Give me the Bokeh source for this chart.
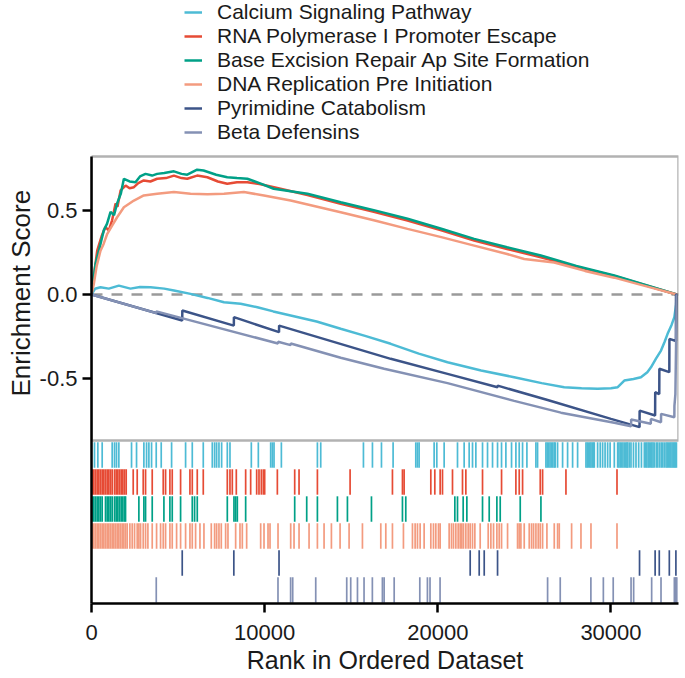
from bokeh.plotting import figure
from bokeh.models import (Range1d, FixedTicker, BoxAnnotation, Span, Legend, LegendItem,
                          Title, ColumnDataSource, NumeralTickFormatter)
from bokeh.embed import file_html
from bokeh.resources import INLINE

# ---------------- data ----------------
SET_NAMES = ["Calcium Signaling Pathway", "RNA Polymerase I Promoter Escape",
             "Base Excision Repair Ap Site Formation", "DNA Replication Pre Initiation",
             "Pyrimidine Catabolism", "Beta Defensins"]
COLORS = ["#4DBBD5", "#E64B35", "#00A087", "#F39B7F", "#3C5488", "#8491B4"]

X_TICKS = [0, 10000, 20000, 30000]
Y_TICKS = [-0.5, 0.0, 0.5]
X_END = 33900

CAL_X = [0, 200, 520, 1000, 1580, 2250, 2800, 3410, 4200, 4760, 5720, 6700, 7650, 8610, 9580, 10500,
         11500, 13000, 14390, 15800, 17280, 18900, 20560, 22500, 24410, 26000, 27300, 28300, 29230,
         30000, 30390, 30770, 31300, 31730, 32100, 32310, 32600, 32890, 33100, 33270, 33500, 33660,
         33760, 33800]
CAL_Y = [0, 0.034, 0.043, 0.035, 0.053, 0.035, 0.045, 0.043, 0.035, 0.024, 0.004, -0.020, -0.046,
         -0.055, -0.075, -0.100, -0.124, -0.160, -0.203, -0.245, -0.292, -0.350, -0.401, -0.450,
         -0.490, -0.525, -0.549, -0.555, -0.559, -0.555, -0.549, -0.510, -0.500, -0.490, -0.460,
         -0.431, -0.380, -0.332, -0.280, -0.233, -0.180, -0.134, -0.060, 0.0]

RNA_X = [0, 150, 330, 600, 800, 1000, 1190, 1390, 1500, 1680, 1970, 2200, 2450, 2700, 3020, 3400,
         3790, 4300, 4760, 5200, 5530, 6100, 6690, 7300, 7840, 8400, 9000, 9700, 10540, 12470, 14390,
         16300, 18250, 20200, 22100, 24000, 25950, 27400, 30190, 33800]
RNA_Y = [0, 0.12, 0.26, 0.35, 0.40, 0.38, 0.44, 0.54, 0.52, 0.617, 0.646, 0.63, 0.636, 0.66, 0.676,
         0.67, 0.686, 0.69, 0.705, 0.69, 0.686, 0.705, 0.695, 0.67, 0.656, 0.665, 0.666, 0.655,
         0.636, 0.59, 0.538, 0.49, 0.439, 0.38, 0.32, 0.27, 0.221, 0.18, 0.11, 0.0]

BER_X = [0, 100, 230, 450, 710, 900, 1100, 1300, 1480, 1700, 1870, 2200, 2540, 2800, 3120, 3500,
         3790, 4200, 4760, 5200, 5530, 6100, 6470, 7200, 7840, 8400, 9000, 9700, 10520, 12470, 14390,
         16300, 18250, 20200, 22100, 24000, 25950, 28000, 30190, 33800]
BER_Y = [0, 0.08, 0.18, 0.27, 0.38, 0.42, 0.49, 0.47, 0.54, 0.60, 0.686, 0.67, 0.666, 0.70, 0.715,
         0.705, 0.715, 0.72, 0.73, 0.715, 0.71, 0.74, 0.735, 0.71, 0.695, 0.69, 0.686, 0.66, 0.627,
         0.597, 0.547, 0.50, 0.449, 0.39, 0.33, 0.28, 0.231, 0.17, 0.113, 0.0]

DNA_X = [0, 135, 300, 520, 700, 910, 1200, 1480, 1870, 2450, 3020, 3790, 4760, 5720, 6700, 7650,
         8800, 9960, 11500, 14390, 16300, 18250, 20200, 22100, 24000, 24990, 26720, 28500, 30190,
         32000, 33800]
DNA_Y = [0, 0.063, 0.17, 0.26, 0.30, 0.36, 0.41, 0.458, 0.517, 0.557, 0.587, 0.597, 0.607, 0.597,
         0.595, 0.597, 0.607, 0.587, 0.557, 0.488, 0.44, 0.389, 0.34, 0.29, 0.24, 0.211, 0.19, 0.14,
         0.10, 0.05, 0.0]

PYR_X = [0, 5240, 5245, 8220, 8225, 10830, 10835, 17280, 20560, 23450, 23455, 26340, 30000, 31650,
         31655, 32550, 32555, 32790, 32795, 33370, 33375, 33750, 33755, 33800]
PYR_Y = [0, -0.154, -0.095, -0.184, -0.134, -0.223, -0.184, -0.381, -0.470, -0.549, -0.540, -0.625,
         -0.737, -0.786, -0.688, -0.717, -0.579, -0.590, -0.440, -0.460, -0.263, -0.275, 0.0, 0.0]

BETA_X = [0, 3740, 3745, 10770, 10775, 11500, 11505, 14390, 16900, 20560, 24410, 27110, 30190,
          31160, 31165, 32300, 32305, 32890, 32895, 33660, 33665, 33720, 33800]
BETA_Y = [0, -0.110, -0.100, -0.290, -0.280, -0.300, -0.290, -0.375, -0.440, -0.525, -0.630, -0.700,
          -0.760, -0.780, -0.740, -0.766, -0.737, -0.757, -0.707, -0.727, -0.660, -0.590, 0.0]

CAL_HITS = [0, 173, 366, 617, 1195, 1330, 1445, 1580, 2312, 2601, 3025, 3180, 3314, 3469, 3738, 4027,
            4625, 5434, 5820, 6455, 6976, 7110, 7226, 7361, 7515, 7843, 7997, 9230, 9635, 10348,
            10444, 10541, 10965, 13046, 13238, 15705, 16225, 16746, 17418, 18728, 18824, 18920,
            19788, 19942, 20366, 21137, 21522, 21811, 22004, 22197, 22582, 22871, 23160, 23449,
            23680, 23931, 24258, 24509, 24701, 24894, 25145, 25665, 25761,
            26244, 26320, 26400, 26480, 26560, 26640, 26725, 26780, 26916, 27206, 27495, 27784,
            28073, 28556, 28630, 28700, 28780, 28845, 28920, 28990, 29037, 29229, 29380, 29518,
            29660, 29807, 29950, 30193, 30387, 30460, 30540, 30610, 30690, 30772, 30850, 30920,
            30965, 31060, 31156, 31300, 31445, 31600, 31760, 31928, 32000, 32070, 32150, 32217,
            32290, 32360, 32430, 32506, 32620, 32697, 32800, 32900, 32986, 33080, 33180, 33250,
            33320, 33390, 33460, 33530, 33600, 33661, 33720, 33780]
RNA_HITS = [39, 135, 231, 328, 424, 520, 617, 713, 809, 906, 1002, 1098, 1195, 1330, 1426, 1522,
            1618, 1715, 1811, 1908, 2004, 2409, 2640, 2987, 3122, 3507, 4143, 4278, 4528, 4663,
            5145, 5685, 5820, 6108, 6455, 7843, 7997, 8132, 8363, 8903, 9192, 9539, 9673, 9808,
            9924, 10001, 10733, 11735, 11986, 13046, 14934, 17380, 17958, 18054, 19596, 19827,
            20135, 20270, 20848, 21426, 21619, 22582, 23681, 24509, 24702, 24895, 25916, 26051,
            27400, 30348]
BER_HITS = [39, 135, 231, 328, 424, 520, 617, 809, 906, 1002, 1098, 1195, 1330, 1426, 1522, 1618,
            1715, 1811, 1908, 1966, 2736, 3025, 3122, 3507, 4182, 4528, 4663, 5145, 5820, 5954,
            6108, 7843, 8228, 8325, 8421, 8903, 11735, 12429, 13046, 14202, 14780, 16168, 17958,
            18150, 20983, 21137, 21465, 21677, 22582, 22968, 23411, 23604, 24760, 25955]
DNA_HITS = [39, 135, 231, 328, 424, 520, 617, 713, 809, 906, 1002, 1098, 1195, 1291, 1387, 1484,
            1580, 1676, 1773, 1869, 1966, 2062, 2216, 2351, 2486, 2640, 2736, 2833, 2987, 3122,
            3257, 3507, 3758, 3989, 4143, 4278, 4528, 4663, 4914, 5145, 5434, 5685, 5820, 6012,
            6263, 6494, 6918, 7110, 7226, 7361, 7496, 7746, 7881, 8325, 8575, 8710, 8960, 9770,
            9963, 10194, 10310, 10772, 11504, 11697, 11986, 12564, 13046, 13431, 13855, 14356,
            14876, 15647, 16707, 16996, 17380, 18015, 18536, 18690, 18825, 18979, 19210, 19596,
            19750, 19885, 20039, 20135, 20655, 20790, 20906, 21041, 21176, 21291, 21388, 21484,
            21619, 21754, 21869, 22004, 22139, 22447, 22910, 23064, 23218, 23411, 23546, 23681,
            24028, 24606, 24702, 24798, 24991, 25280, 25415, 25531, 25666, 25800, 25916, 26051,
            26301, 26725, 26918, 27014, 27727, 28267, 28845, 30348]
PYR_HITS = [5240, 8220, 10830, 21870, 22390, 22680, 23450, 31650, 32550, 32790, 33370, 33750]
BETA_HITS = [3740, 10770, 11500, 11620, 12950, 14740, 14970, 15360, 15740, 16220, 16800, 16900,
             17480, 18960, 19400, 19550, 20130, 26340, 27070, 28840, 29560, 30130, 31160, 31310,
             32350, 32890, 33660, 33710, 33760, 33800]

CURVES = [(CAL_X, CAL_Y), (RNA_X, RNA_Y), (BER_X, BER_Y), (DNA_X, DNA_Y), (PYR_X, PYR_Y),
          (BETA_X, BETA_Y)]
HITS = [CAL_HITS, RNA_HITS, BER_HITS, DNA_HITS, PYR_HITS, BETA_HITS]

# ---------------- layout ----------------
FONT = "Liberation Sans"
TXT = "#1a1a1a"
W, H = 682, 678
B_LEFT, B_RIGHT, B_BOTTOM = 91, 4, 75
FRAME_H = H - B_BOTTOM                   # 603 px: legend + ES panel + rug
LEG_PX, ES_PX = 156, 284
ES_TOP, ES_BOTTOM = 0.818, -0.865
per_px = (ES_TOP - ES_BOTTOM) / ES_PX
Y_END = ES_TOP + LEG_PX * per_px
Y_START = ES_BOTTOM - (FRAME_H - LEG_PX - ES_PX) * per_px
RUG_PX = FRAME_H - LEG_PX - ES_PX - 1
N_ROWS = len(SET_NAMES)
RUG_END = N_ROWS * FRAME_H / RUG_PX
ROW_H = 24

p = figure(width=W, height=H, output_backend="svg", toolbar_location=None,
           x_range=Range1d(0, X_END), y_range=Range1d(Y_START, Y_END),
           min_border_left=B_LEFT, min_border_right=B_RIGHT,
           min_border_top=0, min_border_bottom=B_BOTTOM)
p.extra_y_ranges = {"rug": Range1d(0, RUG_END)}
p.outline_line_color = None
p.xgrid.visible = False
p.ygrid.visible = False

# zero line
p.add_layout(Span(location=0, dimension="width", line_color="#9a9a9a", line_width=2.5,
                  line_dash="11 9", level="underlay"))

# ES curves
renderers = []
for (xs, ys), col in zip(CURVES, COLORS):
    r = p.line(xs, ys, line_color=col, line_width=2.5)
    renderers.append(r)

# ES panel box
p.add_layout(BoxAnnotation(bottom=ES_BOTTOM, top=ES_TOP, fill_alpha=0,
                           line_color="black", line_width=2.5))

# rug rows
for i, (hits, col) in enumerate(zip(HITS, COLORS)):
    top = N_ROWS - i
    src = ColumnDataSource(dict(x=hits, y0=[top - 1 + 0.03] * len(hits),
                                y1=[top - 0.03] * len(hits)))
    p.segment(x0="x", y0="y0", x1="x", y1="y1", source=src, line_color=col, line_width=1.7,
              y_range_name="rug")

# axes
for ax in (p.xaxis[0], p.yaxis[0]):
    ax.axis_line_width = 2.5
    ax.axis_line_color = "black"
    ax.major_tick_line_width = 2.5
    ax.major_tick_line_color = "black"
    ax.major_tick_out = 9
    ax.major_tick_in = 0
    ax.minor_tick_line_color = None
    ax.major_label_text_font = FONT
    ax.major_label_text_font_size = "22px"
    ax.major_label_text_color = TXT

p.xaxis.ticker = FixedTicker(ticks=X_TICKS)
p.xaxis.formatter = NumeralTickFormatter(format="0")
p.xaxis.major_label_standoff = 12
p.xaxis.axis_label = "Rank in Ordered Dataset"
p.xaxis.axis_label_text_font = FONT
p.xaxis.axis_label_text_font_size = "25px"
p.xaxis.axis_label_text_font_style = "normal"
p.xaxis.axis_label_text_color = TXT
p.xaxis.axis_label_standoff = 3

p.yaxis.ticker = FixedTicker(ticks=Y_TICKS)
p.yaxis.formatter = NumeralTickFormatter(format="0.0")
p.yaxis.major_label_standoff = 5
p.yaxis.bounds = (Y_START, ES_TOP)

p.add_layout(Title(text="Enrichment Score", align="left", offset=207, standoff=2,
                   text_font=FONT, text_font_size="26px", text_font_style="normal",
                   text_color=TXT), "left")

legend = Legend(items=[LegendItem(label=n, renderers=[r]) for n, r in zip(SET_NAMES, renderers)],
                location=(93, FRAME_H - N_ROWS * ROW_H), orientation="vertical", glyph_width=18,
                glyph_height=ROW_H, label_height=ROW_H, spacing=0, padding=0, margin=0,
                label_standoff=15, border_line_color=None, background_fill_alpha=0,
                label_text_font=FONT, label_text_font_size="21px", label_text_color=TXT)
p.add_layout(legend)

open("out.html", "w").write(file_html(p, INLINE))
